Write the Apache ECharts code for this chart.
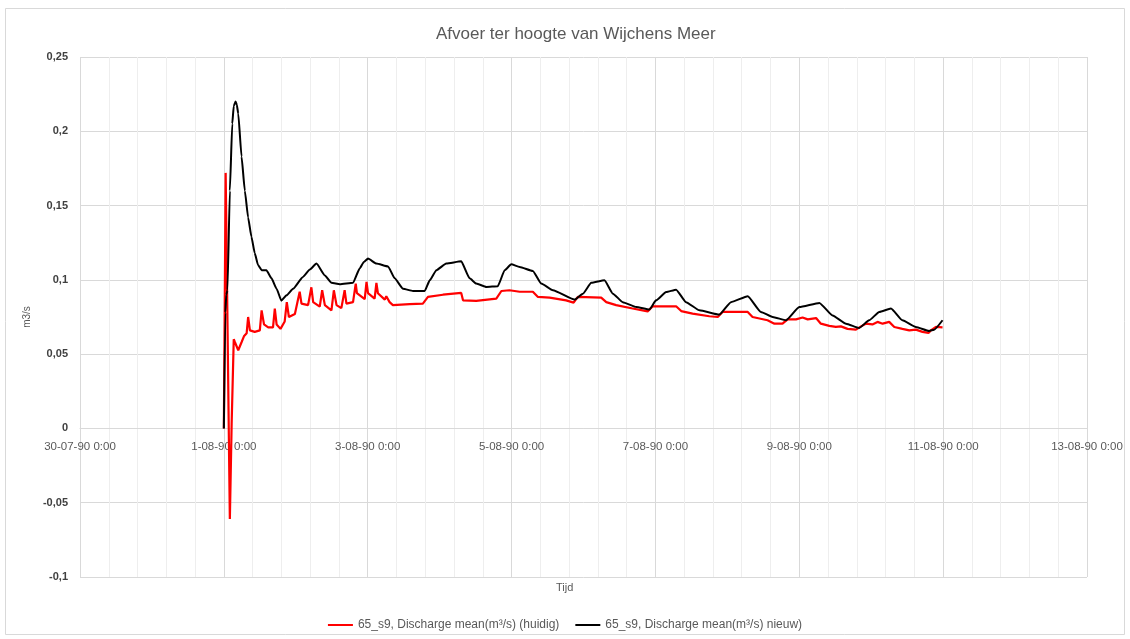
<!DOCTYPE html>
<html>
<head>
<meta charset="utf-8">
<script src="https://cdn.jsdelivr.net/npm/echarts@6/dist/echarts.min.js"></script>
<style>
html,body{margin:0;padding:0;background:#fff;}
#chart{width:1130px;height:639px;}
</style>
</head>
<body>
<div id="chart"></div>
<script>
// Hours after 1-08-90 0:00 and discharge values (m3/s)
const redHours = [0,0.6,1.1,2.0,2.6,3.3,3.7,4.8,5.9,6.7,7.6,8.1,8.7,10.3,12.0,12.6,13.4,14.8,16.4,17.0,17.6,18.9,20.3,21.0,21.7,23.7,25.3,25.9,28.1,29.2,29.8,32.0,32.8,33.7,35.9,36.7,37.6,39.2,40.3,40.9,43.1,44.0,44.4,47.0,47.6,48.1,50.3,50.9,51.4,53.7,54.2,55.3,56.4,62.0,66.4,68.1,68.7,73.1,79.2,79.8,84.2,90.9,92.6,95.3,98.7,103.1,104.8,108.7,114.2,116.7,118.1,125.9,127.6,130.9,136.4,141.4,143.1,150.9,152.6,156.4,162.0,164.8,166.4,174.8,176.4,181.4,183.7,186.4,188.1,190.9,193.1,194.8,197.6,199.2,202.0,204.2,205.9,208.1,210.9,212.6,214.2,216.4,218.1,219.8,222.0,223.7,226.4,228.7,230.9,233.1,235.1,235.9,237.6,239.8];
const redValues = [0,0.172,0.09,-0.061,0.003,0.060,0.058,0.0526,0.058,0.062,0.064,0.075,0.066,0.065,0.066,0.0795,0.070,0.068,0.068,0.0807,0.070,0.067,0.072,0.085,0.075,0.077,0.092,0.084,0.083,0.095,0.085,0.082,0.093,0.083,0.0795,0.093,0.083,0.081,0.093,0.084,0.085,0.0975,0.091,0.087,0.0986,0.091,0.0874,0.098,0.091,0.0867,0.089,0.085,0.083,0.0836,0.084,0.0885,0.0896,0.090,0.0912,0.0862,0.0858,0.0874,0.0925,0.093,0.092,0.092,0.0885,0.088,0.0862,0.0847,0.0885,0.088,0.085,0.083,0.0807,0.0788,0.0822,0.0822,0.079,0.0773,0.0755,0.075,0.0784,0.0784,0.075,0.0728,0.0705,0.0705,0.0734,0.0734,0.0747,0.0734,0.0743,0.0705,0.069,0.0683,0.0687,0.067,0.0665,0.0687,0.0705,0.070,0.0717,0.0705,0.0717,0.0683,0.067,0.066,0.0665,0.065,0.0643,0.066,0.0683,0.068];
const blackHours = [0,0.5,0.8,1.2,2.0,2.8,3.3,3.9,4.3,4.8,5.9,7.0,8.1,9.2,10.3,11.4,12.6,14.2,15.9,17.6,19.2,20.9,23.1,26.4,28.7,30.9,33.7,35.9,38.7,43.1,45.3,46.7,48.1,50.9,54.8,57.0,59.8,63.1,67.0,68.7,70.9,74.2,79.2,82.0,84.2,87.6,91.4,93.7,95.9,98.7,103.1,105.9,109.8,117.0,119.8,122.6,127.0,129.8,133.1,137.6,142.0,144.2,147.6,150.9,154.2,158.7,165.3,169.2,174.8,179.2,183.1,187.6,192.0,198.7,203.1,207.6,212.0,215.3,218.7,222.6,226.4,230.9,235.3,237.0,239.8];
const blackValues = [0,0.078,0.09,0.093,0.160,0.205,0.217,0.220,0.218,0.212,0.183,0.160,0.142,0.129,0.118,0.110,0.1065,0.1065,0.101,0.094,0.086,0.0896,0.094,0.102,0.107,0.111,0.103,0.098,0.097,0.098,0.1076,0.112,0.1143,0.111,0.109,0.101,0.094,0.0925,0.0925,0.0997,0.1065,0.111,0.1125,0.101,0.0975,0.0952,0.0957,0.1065,0.1105,0.1087,0.106,0.0975,0.093,0.0867,0.0907,0.098,0.0997,0.0907,0.085,0.0817,0.080,0.0862,0.0918,0.0934,0.085,0.0795,0.0766,0.085,0.089,0.0784,0.075,0.0728,0.0817,0.0845,0.076,0.0705,0.0676,0.0728,0.0784,0.0807,0.0728,0.0683,0.0656,0.0665,0.0728];
const yTicks = {min:-0.1, max:0.25, step:0.05};
const xTicks = {minDay:0, maxDay:14, stepDay:2}; // days after 30-07-90 0:00
const seriesNames = ['65_s9, Discharge mean(m³/s) (huidig)', '65_s9, Discharge mean(m³/s) nieuw)'];

const OFFSET_DAYS = 2; // 1-08-90 is 2 days after 30-07-90
const toPts = (hs, vs) => hs.map((h, i) => [OFFSET_DAYS + h / 24, vs[i]]);
const base = Date.UTC(1990, 6, 30);
function dayLabel(d) {
  const dt = new Date(base + Math.round(d) * 86400000);
  const dd = dt.getUTCDate();
  const mm = String(dt.getUTCMonth() + 1).padStart(2, '0');
  const yy = String(dt.getUTCFullYear()).slice(2);
  return dd + '-' + mm + '-' + yy + ' 0:00';
}

const GRID = {left: 80, right: 43, top: 57, bottom: 62};
const plotH = 639 - GRID.top - GRID.bottom;
// distance from grid bottom to the y=0 level, derived from the axis range
const zeroOffset = -plotH * (0 - yTicks.min) / (yTicks.max - yTicks.min);

const chart = echarts.init(document.getElementById('chart'), null, {renderer: 'canvas'});
const font = 'Liberation Sans, Arial, sans-serif';
chart.setOption({
  animation: false,
  backgroundColor: '#fff',
  textStyle: {fontFamily: font},
  title: {
    text: 'Afvoer ter hoogte van Wijchens Meer',
    left: 431, top: 21,
    textStyle: {fontSize: 17, fontWeight: 'normal', color: '#595959', fontFamily: font}
  },
  graphic: [
    {type: 'rect', shape: {x: 5.5, y: 8.5, width: 1119, height: 626}, style: {fill: 'none', stroke: '#d9d9d9', lineWidth: 1}, z: -10, silent: true},
    {type: 'text', left: 556, top: 582, style: {text: 'Tijd', fontSize: 11, fill: '#595959', fontFamily: font}}
  ],
  legend: {
    bottom: 3, left: 'center',
    icon: 'rect', itemWidth: 25, itemHeight: 2, itemGap: 16,
    textStyle: {fontSize: 12, color: '#595959', fontFamily: font},
    data: seriesNames
  },
  grid: Object.assign({containLabel: false}, GRID),
  xAxis: {
    type: 'value',
    min: xTicks.minDay, max: xTicks.maxDay, interval: xTicks.stepDay,
    offset: zeroOffset,
    axisLine: {show: true, onZero: false, lineStyle: {color: '#d9d9d9'}},
    axisTick: {show: false},
    axisLabel: {formatter: dayLabel, color: '#595959', fontSize: 11.5, margin: 12, fontFamily: font},
    splitLine: {show: true, lineStyle: {color: '#d9d9d9', width: 1}},
    minorTick: {show: false, splitNumber: 5},
    minorSplitLine: {show: true, lineStyle: {color: '#eeeeee', width: 1}}
  },
  yAxis: {
    type: 'value',
    min: yTicks.min, max: yTicks.max, interval: yTicks.step,
    name: 'm3/s', nameLocation: 'middle', nameGap: 40, nameRotate: 90,
    nameTextStyle: {fontSize: 10, color: '#595959', fontFamily: font},
    axisLine: {show: false},
    axisTick: {show: false},
    axisLabel: {
      formatter: v => String(+v.toFixed(2)).replace('.', ','),
      color: '#404040', fontSize: 11, fontWeight: 'bold', margin: 12, fontFamily: font
    },
    splitLine: {show: true, lineStyle: {color: '#d9d9d9', width: 1}}
  },
  series: [
    {
      name: seriesNames[0], type: 'line', data: toPts(redHours, redValues),
      showSymbol: false, symbol: 'none', smooth: false,
      lineStyle: {color: '#ff0000', width: 2.2}, itemStyle: {color: '#ff0000'}, z: 2
    },
    {
      name: seriesNames[1], type: 'line', data: toPts(blackHours, blackValues),
      showSymbol: false, symbol: 'none', smooth: 0.15, smoothMonotone: 'x',
      lineStyle: {color: '#000000', width: 2}, itemStyle: {color: '#000000'}, z: 3
    }
  ]
});
</script>
</body>
</html>
